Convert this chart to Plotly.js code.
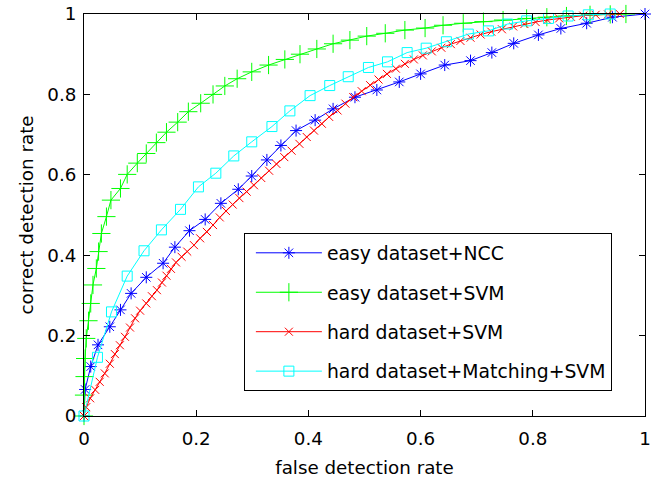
<!DOCTYPE html>
<html>
<head>
<meta charset="utf-8">
<script src="https://cdn.plot.ly/plotly-3.0.1.min.js"></script>
<style>html,body{margin:0;padding:0;background:#fff;}#chart{width:665px;height:480px;}</style>
</head>
<body>
<div id="chart"></div>
<script>
const seriesNames = ['easy dataset+NCC', 'easy dataset+SVM', 'hard dataset+SVM', 'hard dataset+Matching+SVM'];

const ncc_easy_x = [0, 0.002, 0.012, 0.025, 0.046, 0.065, 0.084, 0.111, 0.141, 0.162, 0.188, 0.216, 0.244, 0.275, 0.299, 0.326, 0.351, 0.378, 0.412, 0.444, 0.483, 0.522, 0.562, 0.600, 0.643, 0.689, 0.727, 0.766, 0.810, 0.850, 0.896, 0.942, 1.0];
const ncc_easy_y = [0, 0.066, 0.123, 0.177, 0.222, 0.264, 0.305, 0.345, 0.380, 0.420, 0.461, 0.489, 0.529, 0.564, 0.597, 0.637, 0.673, 0.710, 0.736, 0.764, 0.793, 0.811, 0.831, 0.851, 0.873, 0.884, 0.904, 0.927, 0.948, 0.964, 0.977, 0.992, 1.0];

const svm_easy_x = [0, 0, 0.001, 0.002, 0.004, 0.008, 0.012, 0.016, 0.022, 0.026, 0.031, 0.040, 0.048, 0.065, 0.077, 0.095, 0.111, 0.129, 0.147, 0.167, 0.186, 0.208, 0.230, 0.251, 0.273, 0.299, 0.329, 0.358, 0.385, 0.415, 0.444, 0.474, 0.504, 0.537, 0.572, 0.608, 0.640, 0.676, 0.712, 0.747, 0.789, 0.825, 0.860, 0.902, 0.938, 0.966];
const svm_easy_y = [0, 0.052, 0.098, 0.143, 0.193, 0.237, 0.280, 0.326, 0.367, 0.409, 0.454, 0.496, 0.537, 0.566, 0.601, 0.629, 0.653, 0.680, 0.706, 0.731, 0.757, 0.778, 0.800, 0.821, 0.839, 0.856, 0.873, 0.887, 0.900, 0.913, 0.926, 0.935, 0.945, 0.952, 0.960, 0.965, 0.972, 0.977, 0.981, 0.985, 0.989, 0.992, 0.995, 0.998, 0.999, 1.0];

const svm_hard_x = [0, 0.004, 0.011, 0.020, 0.028, 0.037, 0.046, 0.055, 0.064, 0.073, 0.082, 0.091, 0.100, 0.111, 0.121, 0.130, 0.139, 0.147, 0.155, 0.164, 0.174, 0.184, 0.196, 0.207, 0.219, 0.230, 0.242, 0.253, 0.265, 0.277, 0.290, 0.303, 0.316, 0.330, 0.343, 0.357, 0.370, 0.384, 0.397, 0.410, 0.424, 0.437, 0.452, 0.466, 0.480, 0.495, 0.510, 0.525, 0.540, 0.556, 0.572, 0.588, 0.604, 0.620, 0.637, 0.654, 0.671, 0.689, 0.707, 0.726, 0.745, 0.765, 0.785, 0.805, 0.826, 0.847, 0.868, 0.890, 0.912, 0.934, 0.955];
const svm_hard_y = [0, 0.022, 0.044, 0.065, 0.085, 0.106, 0.130, 0.154, 0.176, 0.197, 0.220, 0.243, 0.262, 0.280, 0.298, 0.313, 0.332, 0.349, 0.366, 0.382, 0.396, 0.409, 0.425, 0.442, 0.458, 0.475, 0.494, 0.510, 0.526, 0.542, 0.558, 0.574, 0.592, 0.610, 0.627, 0.644, 0.660, 0.677, 0.694, 0.710, 0.727, 0.744, 0.760, 0.777, 0.793, 0.808, 0.823, 0.837, 0.851, 0.864, 0.876, 0.887, 0.897, 0.907, 0.916, 0.925, 0.933, 0.941, 0.949, 0.956, 0.962, 0.969, 0.975, 0.980, 0.985, 0.989, 0.993, 0.996, 0.998, 0.999, 1.0];

const match_hard_x = [0, 0.024, 0.049, 0.077, 0.107, 0.138, 0.172, 0.204, 0.235, 0.267, 0.299, 0.335, 0.367, 0.403, 0.438, 0.471, 0.507, 0.541, 0.576, 0.610, 0.646, 0.685, 0.721, 0.755, 0.789, 0.828, 0.863, 0.899, 0.938];
const match_hard_y = [0, 0.146, 0.259, 0.348, 0.411, 0.463, 0.514, 0.570, 0.604, 0.647, 0.682, 0.720, 0.759, 0.797, 0.822, 0.844, 0.867, 0.881, 0.904, 0.915, 0.931, 0.950, 0.958, 0.975, 0.983, 0.989, 0.995, 0.998, 1.0];

const tickVals = [0, 0.2, 0.4, 0.6, 0.8, 1];
const tickText = ['0', '0.2', '0.4', '0.6', '0.8', '1'];

const FONT = 'DejaVu Sans, Verdana, sans-serif';

function mk(name, x, y, color, symbol, size, group) {
  return {
    type: 'scatter', mode: 'lines+markers', name: name, x: x, y: y,
    legendgroup: group,
    line: {color: color, width: 1},
    marker: {symbol: symbol, size: size, color: color, line: {color: color, width: 1}},
    cliponaxis: false
  };
}

const traces = [
  mk(seriesNames[0], ncc_easy_x, ncc_easy_y, '#0000ff', 'asterisk-open', 10, 'a'),
  mk(seriesNames[1], svm_easy_x, svm_easy_y, '#00ff00', 'cross-thin-open', 13, 'b'),
  mk(seriesNames[2], svm_hard_x, svm_hard_y, '#ff0000', 'x-thin-open', 8, 'c'),
  mk(seriesNames[3], match_hard_x, match_hard_y, '#00ffff', 'square-open', 10, 'd')
];

const axisCommon = {
  range: [0, 1], tickvals: tickVals, ticktext: tickText,
  showgrid: false, zeroline: false, showline: true, linecolor: '#000', linewidth: 1,
  mirror: 'ticks', ticks: 'inside', ticklen: 6, tickwidth: 1, tickcolor: '#000',
  tickfont: {family: FONT, size: 18.3, color: '#000'}, fixedrange: true
};

const layout = {
  width: 665, height: 480,
  margin: {l: 84, r: 20, t: 14, b: 64},
  paper_bgcolor: '#fff', plot_bgcolor: '#fff',
  font: {family: FONT, size: 18.3, color: '#000'},
  xaxis: Object.assign({}, axisCommon, {
    title: {text: 'false detection rate', font: {family: FONT, size: 18.3, color: '#000'}, standoff: 13},
    ticklabelstandoff: 6
  }),
  yaxis: Object.assign({}, axisCommon, {
    title: {text: 'correct detection rate', font: {family: FONT, size: 18.3, color: '#000'}, standoff: 8},
    ticklabelstandoff: 3
  }),
  showlegend: true,
  legend: {
    x: 0.285, y: 0.455, xanchor: 'left', yanchor: 'top',
    bgcolor: '#fff', bordercolor: '#000', borderwidth: 1,
    font: {family: FONT, size: 18.8, color: '#000'},
    traceorder: 'grouped', tracegroupgap: 12, itemwidth: 66, indentation: 6
  }
};

Plotly.newPlot('chart', traces, layout, {displayModeBar: false, staticPlot: true});
</script>
</body>
</html>
